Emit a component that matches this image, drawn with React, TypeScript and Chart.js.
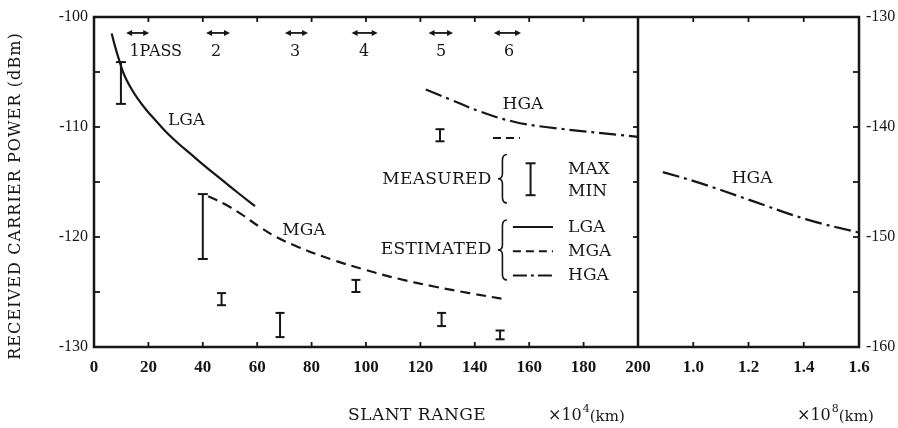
import React, { useEffect, useRef } from "react";
import { Chart, registerables } from "chart.js";

Chart.register(...registerables);

// ---------- data ----------
// Estimated curves, near range (x in 10^4 km, y in dBm)
const lgaX = [6.5, 8, 9.6, 11, 13.2, 16, 19.4, 23, 26.7, 31, 35.3, 41, 47.5, 53, 59.2];
const lgaY = [-101.5, -102.9, -104.2, -105.2, -106.3, -107.4, -108.5, -109.5, -110.5, -111.5, -112.4, -113.6, -114.9, -116.0, -117.2];

const mgaX = [42, 48, 54, 61, 67, 75, 88, 100, 112, 125, 138, 152];
const mgaY = [-116.3, -117.0, -117.9, -119.1, -120.0, -120.9, -122.1, -123.0, -123.8, -124.5, -125.1, -125.7];

const hgaX = [122, 131, 142, 154, 166, 200];
const hgaY = [-106.6, -107.5, -108.6, -109.5, -110.0, -110.9];

// Estimated HGA, far range (x in 10^8 km, y in dBm on right axis)
const hgaFarX = [0.89, 1.025, 1.2, 1.41, 1.6];
const hgaFarY = [-144.1, -145.1, -146.6, -148.4, -149.6];

// Measured max / min
const measX = [9.9, 40, 46.9, 68.4, 96.3, 127.2, 127.8, 149.3];
const measMax = [-104.1, -116.1, -125.1, -126.9, -123.9, -110.2, -126.9, -128.5];
const measMin = [-107.9, -122.0, -126.2, -129.1, -125.0, -111.3, -128.1, -129.3];

// short dashed mark near HGA at pass 6
const hgaMarkX = [146.7, 156.6];
const hgaMarkY = [-111.0, -111.0];

// Passes
const passLabels = ["1PASS", "2", "3", "4", "5", "6"];
const passStart = [11.8, 41.2, 70.2, 94.7, 123, 147];
const passEnd = [20.3, 50, 78.7, 104.3, 132, 157];
const passLabelX = [22.7, 44.9, 73.9, 99.3, 127.6, 152.6];

// Ticks
const xTicksNear = [0, 20, 40, 60, 80, 100, 120, 140, 160, 180, 200];
const xTicksFar = [1.0, 1.2, 1.4, 1.6];
const yTicksLeft = [-130, -120, -110, -100];
const yTicksRight = [-160, -150, -140, -130];
const xMarksNear = [20, 40, 60, 80, 100, 120, 140, 160, 180];
const xMarksFar = [1.0, 1.2, 1.4];
const yMarksLeft = [-125, -120, -115, -110, -105];
const yMarksRight = [-155, -150, -145, -140, -135];

const INK = "#161616";
const SERIF = '"DejaVu Serif", serif';
const NUMF = '"Liberation Serif", serif';
const HGA_DASH = [17, 5, 3, 5];
const MGA_DASH = [10, 6];

const pts = (xs: number[], ys: number[]) => xs.map((v, i) => ({ x: v, y: ys[i] }));

const decor = {
  id: "decor",
  beforeDraw(chart: any) {
    const c = chart.ctx;
    c.save();
    c.fillStyle = "#ffffff";
    c.fillRect(0, 0, chart.width, chart.height);
    c.restore();
  },
  afterDraw(chart: any) {
    const c: CanvasRenderingContext2D = chart.ctx;
    const { x, x2, y, y2 } = chart.scales;
    const ca = chart.chartArea;
    const line = (a: number, b: number, d: number, e: number) => {
      c.beginPath();
      c.moveTo(a, b);
      c.lineTo(d, e);
      c.stroke();
    };
    c.save();
    c.strokeStyle = INK;
    c.fillStyle = INK;
    c.setLineDash([]);

    // frame + separator
    c.lineWidth = 2.5;
    c.strokeRect(ca.left, ca.top, ca.right - ca.left, ca.bottom - ca.top);
    const sep = x.getPixelForValue(200);
    line(sep, ca.top, sep, ca.bottom);

    // inward ticks
    c.lineWidth = 1.8;
    xMarksNear.forEach((v) => {
      const p = x.getPixelForValue(v);
      line(p, ca.top, p, ca.top + 5);
      line(p, ca.bottom, p, ca.bottom - 5);
    });
    xMarksFar.forEach((v) => {
      const p = x2.getPixelForValue(v);
      line(p, ca.top, p, ca.top + 5);
      line(p, ca.bottom, p, ca.bottom - 5);
    });
    yMarksLeft.forEach((v) => {
      const p = y.getPixelForValue(v);
      line(ca.left, p, ca.left + 6, p);
      line(sep, p, sep - 5, p);
    });
    yMarksRight.forEach((v) => {
      const p = y2.getPixelForValue(v);
      line(ca.right, p, ca.right - 6, p);
    });

    // measured error bars
    c.lineWidth = 2;
    measX.forEach((v, i) => {
      const px = x.getPixelForValue(v);
      const pt = y.getPixelForValue(measMax[i]);
      const pb = y.getPixelForValue(measMin[i]);
      const h = pb - pt > 30 ? 5 : 4.5;
      line(px, pt, px, pb);
      line(px - h, pt, px + h, pt);
      line(px - h, pb, px + h, pb);
    });
    // dashed mark
    c.setLineDash([8, 5]);
    line(
      x.getPixelForValue(hgaMarkX[0]),
      y.getPixelForValue(hgaMarkY[0]),
      x.getPixelForValue(hgaMarkX[1]),
      y.getPixelForValue(hgaMarkY[1])
    );
    c.setLineDash([]);

    // pass arrows
    const ay = y.getPixelForValue(-101.45);
    c.lineWidth = 1.8;
    passStart.forEach((s, i) => {
      const a = x.getPixelForValue(s);
      const b = x.getPixelForValue(passEnd[i]);
      line(a + 3, ay, b - 3, ay);
      c.beginPath();
      c.moveTo(a, ay);
      c.lineTo(a + 6, ay - 3);
      c.lineTo(a + 6, ay + 3);
      c.closePath();
      c.fill();
      c.beginPath();
      c.moveTo(b, ay);
      c.lineTo(b - 6, ay - 3);
      c.lineTo(b - 6, ay + 3);
      c.closePath();
      c.fill();
    });

    // texts
    const text = (s: string, px: number, py: number, size: number, align: CanvasTextAlign, sp = "0px") => {
      c.font = `${size}px ${SERIF}`;
      (c as any).letterSpacing = sp;
      c.textAlign = align;
      c.textBaseline = "middle";
      c.fillText(s, px, py);
    };
    const py0 = y.getPixelForValue(-103.2);
    passLabels.forEach((s, i) => text(s, x.getPixelForValue(passLabelX[i]), py0, 16, "center"));

    text("LGA", x.getPixelForValue(34), y.getPixelForValue(-109.4), 17, "center");
    text("MGA", x.getPixelForValue(77.2), y.getPixelForValue(-119.4), 17, "center");
    text("HGA", x.getPixelForValue(157.7), y.getPixelForValue(-108), 17, "center");
    text("HGA", x2.getPixelForValue(1.213), y2.getPixelForValue(-144.7), 17, "center");

    // legend
    const braceX = x.getPixelForValue(148.5);
    const brace = (yt: number, yb: number) => {
      const w = 9;
      const ym = (yt + yb) / 2;
      const xm = braceX + w / 2;
      c.lineWidth = 1.6;
      c.beginPath();
      c.moveTo(braceX + w, yt);
      c.quadraticCurveTo(xm, yt, xm, yt + 6);
      c.lineTo(xm, ym - 5);
      c.quadraticCurveTo(xm, ym, braceX, ym);
      c.quadraticCurveTo(xm, ym, xm, ym + 5);
      c.lineTo(xm, yb - 6);
      c.quadraticCurveTo(xm, yb, braceX + w, yb);
      c.stroke();
    };
    text("MEASURED", x.getPixelForValue(146.2), y.getPixelForValue(-114.8), 17, "right", "0.3px");
    brace(y.getPixelForValue(-112.5), y.getPixelForValue(-116.9));
    {
      c.lineWidth = 2;
      const px = x.getPixelForValue(160.5);
      const pt = y.getPixelForValue(-113.3);
      const pb = y.getPixelForValue(-116.2);
      line(px, pt, px, pb);
      line(px - 5, pt, px + 5, pt);
      line(px - 5, pb, px + 5, pb);
    }
    text("MAX", x.getPixelForValue(174.3), y.getPixelForValue(-113.9), 17, "left");
    text("MIN", x.getPixelForValue(174.3), y.getPixelForValue(-115.9), 17, "left");

    text("ESTIMATED", x.getPixelForValue(146.2), y.getPixelForValue(-121.1), 17, "right", "0.3px");
    brace(y.getPixelForValue(-118.45), y.getPixelForValue(-123.9));
    const lx0 = x.getPixelForValue(154);
    const lx1 = x.getPixelForValue(168.75);
    const legY = [-119.1, -121.3, -123.5];
    const legDash = [[], [8, 5], [14, 4, 3, 4]];
    const legName = ["LGA", "MGA", "HGA"];
    legY.forEach((v, i) => {
      const p = y.getPixelForValue(v);
      c.lineWidth = 2;
      c.setLineDash(legDash[i]);
      line(lx0, p, lx1, p);
      c.setLineDash([]);
      text(legName[i], x.getPixelForValue(174.3), p, 17, "left");
    });

    // axis titles
    c.save();
    c.translate(16, 196);
    c.rotate(-Math.PI / 2);
    text("RECEIVED CARRIER POWER (dBm)", 0, 0, 16, "center", "1.1px");
    c.restore();

    const ty = 416;
    text("SLANT RANGE", 348, ty, 17, "left", "0.5px");
    const unit = (px: number, pow: string) => {
      c.font = `16px ${SERIF}`;
      (c as any).letterSpacing = "0px";
      c.textAlign = "left";
      c.textBaseline = "middle";
      c.fillText("×10", px, ty);
      let w = c.measureText("×10").width;
      c.font = `11px ${SERIF}`;
      c.fillText(pow, px + w + 1, ty - 7);
      w += c.measureText(pow).width + 1;
      c.font = `15px ${SERIF}`;
      c.fillText("(km)", px + w, ty + 1);
    };
    unit(548, "4");
    unit(797, "8");

    c.restore();
  },
};

export default function App() {
  const ref = useRef<HTMLCanvasElement | null>(null);
  useEffect(() => {
    if (!ref.current) return;
    const base = { pointRadius: 0, borderWidth: 2.2, borderColor: INK, fill: false, tension: 0.4 };
    const chart = new Chart(ref.current, {
      type: "line",
      data: {
        datasets: [
          { ...base, label: "LGA", data: pts(lgaX, lgaY), xAxisID: "x", yAxisID: "y" },
          { ...base, label: "MGA", data: pts(mgaX, mgaY), borderDash: MGA_DASH, xAxisID: "x", yAxisID: "y" },
          { ...base, label: "HGA", data: pts(hgaX, hgaY), borderDash: HGA_DASH, xAxisID: "x", yAxisID: "y" },
          { ...base, label: "HGA far", data: pts(hgaFarX, hgaFarY), borderDash: HGA_DASH, xAxisID: "x2", yAxisID: "y2" },
        ],
      },
      options: {
        responsive: false,
        animation: false,
        devicePixelRatio: 1,
        layout: { padding: { top: 17, left: 0, right: 0, bottom: 0 } },
        plugins: { legend: { display: false }, tooltip: { enabled: false } },
        scales: {
          x: {
            type: "linear",
            position: "bottom",
            stack: "xs",
            stackWeight: 544,
            min: 0,
            max: 200,
            grid: { display: false, drawTicks: false },
            border: { display: false },
            afterBuildTicks: (s: any) => {
              s.ticks = xTicksNear.map((v) => ({ value: v }));
            },
            afterFit: (s: any) => {
              s.height = 81;
            },
            ticks: {
              autoSkip: false,
              maxRotation: 0,
              padding: 10,
              color: INK,
              font: { family: NUMF, size: 17, weight: "bold" },
              callback: (v: any) => String(v),
            },
          },
          x2: {
            type: "linear",
            position: "bottom",
            stack: "xs",
            stackWeight: 221,
            min: 0.8,
            max: 1.6,
            grid: { display: false, drawTicks: false },
            border: { display: false },
            afterBuildTicks: (s: any) => {
              s.ticks = xTicksFar.map((v) => ({ value: v }));
            },
            afterFit: (s: any) => {
              s.height = 81;
            },
            ticks: {
              autoSkip: false,
              maxRotation: 0,
              padding: 10,
              color: INK,
              font: { family: NUMF, size: 17, weight: "bold" },
              callback: (v: any) => Number(v).toFixed(1),
            },
          },
          y: {
            type: "linear",
            position: "left",
            min: -130,
            max: -100,
            grid: { display: false, drawTicks: false },
            border: { display: false },
            afterBuildTicks: (s: any) => {
              s.ticks = yTicksLeft.map((v) => ({ value: v }));
            },
            afterFit: (s: any) => {
              s.width = 94;
            },
            ticks: {
              padding: 6,
              color: INK,
              font: { family: NUMF, size: 16 },
              callback: (v: any) => String(v),
            },
          },
          y2: {
            type: "linear",
            position: "right",
            min: -160,
            max: -130,
            grid: { display: false, drawTicks: false },
            border: { display: false },
            afterBuildTicks: (s: any) => {
              s.ticks = yTicksRight.map((v) => ({ value: v }));
            },
            afterFit: (s: any) => {
              s.width = 39;
            },
            ticks: {
              padding: 7,
              color: INK,
              font: { family: NUMF, size: 16 },
              callback: (v: any) => String(v),
            },
          },
        },
      } as any,
      plugins: [decor],
    });
    return () => chart.destroy();
  }, []);
  return (
    <div style={{ position: "fixed", left: 0, top: 0, width: 898, height: 428, background: "#fff" }}>
      <canvas ref={ref} width={898} height={428} style={{ display: "block" }} />
    </div>
  );
}
